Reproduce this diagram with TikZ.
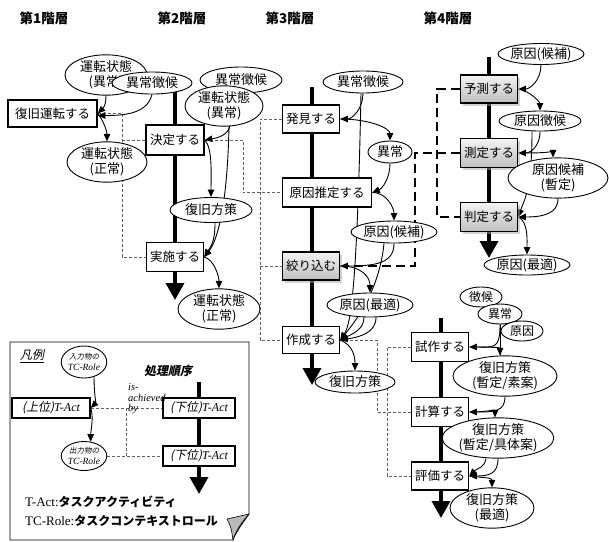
\documentclass[tikz,border=0pt]{standalone}
\usepackage{fontspec}
\setmainfont{Liberation Serif}
\newfontfamily\jp{Noto Sans CJK JP}
\newfontfamily\jpit[FakeSlant=0.2]{Noto Sans CJK JP}
\usetikzlibrary{shapes.geometric,arrows.meta,shadows,calc,backgrounds}
\tikzset{
  box/.style={draw, line width=1.6pt, fill=white, inner sep=0pt, minimum width=57pt, minimum height=29pt, font=\jp\fontsize{12.5}{14}\selectfont},
  gbox/.style={draw, line width=1.6pt, inner sep=0pt, minimum width=57pt, minimum height=29pt, top color=gray!10, bottom color=gray!50, drop shadow={shadow xshift=2.5pt, shadow yshift=-2.5pt, fill=gray!70}, font=\jp\fontsize{12.5}{14}\selectfont},
  ell/.style={draw, ellipse, fill=white, inner sep=0pt, line width=0.9pt, align=center, font=\jp\fontsize{13}{15}\selectfont},
  lbox/.style={draw, line width=1.6pt, fill=white, inner sep=0pt, minimum height=20pt, font=\fontsize{12}{14}\selectfont\itshape},
  lell/.style={draw, ellipse, fill=white, inner sep=0pt, line width=0.9pt, align=center, font=\fontsize{9.5}{10.5}\selectfont\itshape},
  flow/.style={line width=3.5pt, -{Triangle[width=18pt,length=17pt]}},
  arr/.style={line width=0.9pt, -{Triangle[width=6.5pt,length=7.5pt]}},
  dsh/.style={draw=gray!75!black, line width=0.9pt, dash pattern=on 3pt off 2pt},
  tdsh/.style={line width=2.3pt, dash pattern=on 9pt off 5pt},
  ttl/.style={font=\jp\bfseries\fontsize{13.5}{15}\selectfont},
}
\begin{document}
\begin{tikzpicture}[x=1pt,y=-1pt]
\useasboundingbox (0,0) rectangle (609,541);
% titles
\node[ttl] (t1) at (44,18) {第1階層};
\node[ttl] (t2) at (182,18) {第2階層};
\node[ttl] (t3) at (290,18) {第3階層};
\node[ttl] (t4) at (448,18) {第4階層};

% helper coordinates
\coordinate (k1) at (122,0);
\coordinate (k2) at (243,0);
\coordinate (k3) at (260,0);
\coordinate (k4) at (377,0);
\coordinate (k5) at (387,0);
\coordinate (k6) at (415,0);
\coordinate (k7) at (437,0);
\coordinate (k8) at (126,0);
\coordinate (m2s) at (175,92);  \coordinate (m2e) at (175,300);
\coordinate (m3s) at (312,87);  \coordinate (m3e) at (312,385);
\coordinate (m4s) at (489,57);  \coordinate (m4e) at (489,258);
\coordinate (m5s) at (441,318); \coordinate (m5e) at (441,518);
\coordinate (mls) at (199,382); \coordinate (mle) at (199,494);

% level 1
\node[box, minimum width=89pt, minimum height=27pt] (b1) at (52.5,113.5) {復旧運転する};
\node[ell, minimum width=82pt, minimum height=40pt] (e1a) at (106,75) {運転状態\\(異常)};
\node[ell, minimum width=80pt, minimum height=22pt] (e1b) at (152,83) {異常徴候};
\node[ell, minimum width=80pt, minimum height=38pt] (e1c) at (107,162) {運転状態\\(正常)};

% level 2
\node[box, minimum width=58pt, minimum height=30pt] (b2a) at (175,140) {決定する};
\node[box] (b2b) at (175,257) {実施する};
\node[ell, minimum width=82pt, minimum height=26pt] (e2a) at (241,80) {異常徴候};
\node[ell, minimum width=78pt, minimum height=36pt] (e2b) at (224,106) {運転状態\\(異常)};
\node[ell, minimum width=82pt, minimum height=25pt] (e2c) at (211,210) {復旧方策};
\node[ell, minimum width=82pt, minimum height=36pt] (e2d) at (219,309) {運転状態\\(正常)};

% level 3
\node[box, minimum height=28pt] (b3a) at (311,119) {発見する};
\node[box, minimum width=89pt] (b3b) at (327,192.5) {原因推定する};
\node[gbox, minimum height=28pt] (b3c) at (311,266) {絞り込む};
\node[box, minimum height=27pt] (b3d) at (311,340) {作成する};
\node[ell, minimum width=80pt, minimum height=22pt] (e3a) at (363,82) {異常徴候};
\node[ell, minimum width=44pt, minimum height=22pt] (e3b) at (390,152) {異常};
\node[ell, minimum width=82pt, minimum height=22pt] (e3c) at (394,232) {原因(候補)};
\node[ell, minimum width=74pt, minimum height=24pt] (e3d) at (370,305) {原因(最適)};
\node[ell, minimum width=80pt, minimum height=22pt] (e3e) at (355,382) {復旧方策};

% level 4
\node[gbox, minimum height=28pt] (b4a) at (489,89) {予測する};
\node[gbox] (b4b) at (489,153) {測定する};
\node[gbox] (b4c) at (489,217) {判定する};
\node[ell, minimum width=82pt, minimum height=21pt] (e4a) at (541,54) {原因(候補)};
\node[ell, minimum width=82pt, minimum height=20pt] (e4b) at (540,121) {原因徴候};
\node[ell, minimum width=100pt, minimum height=40pt] (e4c) at (558,178) {原因候補\\(暫定)};
\node[ell, minimum width=72pt, minimum height=20pt] (e4d) at (527,265) {原因(最適)};

% level 3b
\node[box] (b5a) at (440,347) {試作する};
\node[box] (b5b) at (440,412) {計算する};
\node[box, minimum height=28pt] (b5c) at (440,476) {評価する};
\node[ell, minimum width=42pt, minimum height=20pt, font=\jp\fontsize{12}{14}\selectfont] (e5a) at (481,297) {徴候};
\node[ell, minimum width=44pt, minimum height=20pt, font=\jp\fontsize{12}{14}\selectfont] (e5b) at (500,314) {異常};
\node[ell, minimum width=42pt, minimum height=20pt, font=\jp\fontsize{12}{14}\selectfont] (e5c) at (522,331) {原因};
\node[ell, minimum width=104pt, minimum height=33pt] (e6a) at (505,376) {復旧方策\\(暫定/素案)};
\node[ell, minimum width=110pt, minimum height=34pt] (e6b) at (498,438) {復旧方策\\(暫定/具体案)};
\node[ell, minimum width=84pt, minimum height=33pt] (e6c) at (492,508) {復旧方策\\(最適)};

% legend
\node[font=\jpit\fontsize{12}{14}\selectfont] (lg) at (32,356) {\underline{凡例}};
\node[lell, minimum width=37pt, minimum height=32pt] (le1) at (84,362) {{\jpit\fontsize{7.5}{9}\selectfont 入力物の}\\TC-Role};
\node[lell, minimum width=38pt, minimum height=29pt] (le2) at (84,456) {{\jpit\fontsize{7.5}{9}\selectfont 出力物の}\\TC-Role};
\node[font=\jpit\bfseries\fontsize{12}{14}\selectfont] (lo) at (168,371) {処理順序};
\node[lbox, minimum width=78pt] (lb1) at (51,408) {{\jpit(上位)}T-Act};
\node[lbox, minimum width=72pt] (lb2) at (199,408) {{\jpit(下位)}T-Act};
\node[lbox, minimum width=72pt] (lb3) at (199,456) {{\jpit(下位)}T-Act};
\node[anchor=west, align=left, inner sep=0pt, font=\fontsize{10.5}{10.5}\selectfont\itshape] (ia) at (128,399) {is-\\achieved-\\by};
\node[anchor=west, inner sep=0pt, font=\fontsize{13}{15}\selectfont] (n1) at (25,502) {T-Act:{\jp\bfseries\fontsize{12}{14}\selectfont タスクアクティビティ}};
\node[anchor=west, inner sep=0pt, font=\fontsize{13}{15}\selectfont] (n2) at (25,521) {TC-Role:{\jp\bfseries\fontsize{12}{14}\selectfont タスクコンテキストロール}};

\begin{scope}[on background layer]
% legend frame
\draw[line width=0.8pt, fill=white] (10,342) -- (249,342) -- (249,514) .. controls (242,524) and (236,532) .. (233,540) -- (10,540) -- cycle;
\draw[line width=0.6pt, fill=gray!55] (249,514) -- (227,519) .. controls (231,527) .. (233,540) .. controls (236,530) and (242,522) .. cycle;

% main flows
\draw[flow] (m2s) -- (m2e);
\draw[flow] (m3s) -- (m3e);
\draw[flow] (m4s) -- (m4e);
\draw[flow] (m5s) -- (m5e);
\draw[flow] (mls) -- (mle);

% dashed hierarchy links
\draw[dsh] (b1.east) -| (k1 |- b2b.west) -- (b2b.west);
\draw[dsh] (k1 |- b2a.west) -- (b2a.west);
\draw[dsh] (b2a.east) -| (k2 |- b3b.west) -- (b3b.west);
\draw[dsh] (b3a.west) -| (k3 |- b3d.west) -- (b3d.west);
\draw[dsh] (k3 |- b3c.west) -- (b3c.west);
\draw[dsh] (b3d.east) -| (k4 |- b5b.west) -- (b5b.west);
\draw[dsh] (b5a.west) -| (k5 |- b5c.west) -- (b5c.west);
\draw[tdsh] (b3c.east) -| (k6 |- b4b.west) -- (b4b.west);
\draw[tdsh] (b4a.west) -| (k7 |- b4c.west) -- (b4c.west);
\draw[dsh] (lb1.east) -- (lb2.west);
\draw[dsh] (k8 |- lb1.east) -- (k8 |- lb3.west);
\draw[dsh] (le2.east) -- (lb3.west);

% level 1 arrows
\draw[arr] (e1a.south) .. controls +(0,10) and +(5,-5) .. (b1.east);
\draw[arr] (e1b.south) .. controls +(-5,20) and +(25,0) .. ($(b1.east)+(0,2)$);
\draw[arr] (b1.east) .. controls +(6,8) and +(0,-10) .. (e1c.north);

% level 2 arrows
\draw[arr] ($(e2b.south)+(6,-1)$) .. controls +(-2,10) and +(12,-2) .. (b2a.east);
\draw[arr] (b2a.east) .. controls +(8,8) and +(0,-20) .. (e2c.north);
\draw[arr] ($(e2b.south)+(5,-1)$) .. controls +(-2,100) and +(8,-10) .. (b2b.east);
\draw[arr] ($(e2c.south)+(4,0)$) .. controls +(0,20) and +(6,-10) .. (b2b.east);
\draw[arr] (b2b.east) .. controls +(10,3) and +(0,-12) .. (e2d.north);

% level 3 arrows
\draw[arr] (e3a.south) .. controls +(0,15) and +(12,0) .. (b3a.east);
\draw[arr] (b3a.east) .. controls +(30,0) and +(0,-12) .. (e3b.north);
\draw[arr] (e3b.south) .. controls +(0,15) and +(10,-4) .. (b3b.east);
\draw[arr] (b3b.east) .. controls +(15,0) and +(0,-12) .. (e3c.north);
\draw[arr] (e3c.south) .. controls +(0,20) and +(35,0) .. (b3c.east);
\draw[arr] (b3c.east) .. controls +(22,0) and +(0,-15) .. (e3d.north);
\draw[arr] ($(e3a.south)+(-2,0)$) .. controls +(-4,200) and +(10,-15) .. (b3d.east);
\draw[arr] ($(e3c.south)+(-10,0)$) .. controls +(-5,50) and +(12,-15) .. (b3d.east);
\draw[arr] ($(e3d.south)+(-6,0)$) .. controls +(0,12) and +(12,-6) .. (b3d.east);
\draw[arr] ($(e3d.south)+(6,0)$) .. controls +(0,15) and +(20,-3) .. (b3d.east);
\draw[arr] (b3d.east) .. controls +(12,5) and +(0,-15) .. (e3e.north);

% level 4 arrows
\draw[arr] (e4a.south) .. controls +(0,15) and +(12,0) .. (b4a.east);
\draw[arr] (b4a.east) .. controls +(12,2) and +(0,-8) .. (e4b.north);
\draw[arr] (e4b.south) .. controls +(0,15) and +(12,0) .. (b4b.east);
\draw[arr] (b4b.east) .. controls +(25,0) and +(0,-5) .. ($(e4c.north)+(-5,0)$);
\draw[arr] (e4c.south) .. controls +(0,15) and +(25,0) .. (b4c.east);
\draw[arr] ($(e4b.south)+(-8,0)$) .. controls +(0,60) and +(5,-15) .. (b4c.east);
\draw[arr] (b4c.east) .. controls +(10,5) and +(0,-15) .. (e4d.north);

% level 3b arrows
\draw[arr] (e5b.south) .. controls +(0,25) and +(25,0) .. (b5a.east);
\draw[line width=0.9pt] (e5b.south) -- (e5b.south |- e6a.north);
\draw[arr] (b5a.east) .. controls +(20,0) and +(0,-8) .. ($(e6a.north)+(-5,0)$);
\draw[arr] (e6a.south) .. controls +(0,15) and +(25,0) .. (b5b.east);
\draw[arr] (b5b.east) .. controls +(18,0) and +(0,-8) .. ($(e6b.north)+(-3,0)$);
\draw[arr] (e6b.south) .. controls +(0,15) and +(20,0) .. (b5c.east);
\draw[arr] ($(e6b.south)+(-12,0)$) .. controls +(-2,10) and +(8,-8) .. (b5c.east);
\draw[arr] (b5c.east) .. controls +(15,2) and +(0,-10) .. (e6c.north);

% legend arrows
\draw[arr] ($(le1.south)+(10,-2)$) .. controls +(0,15) and +(5,-5) .. (lb1.east);
\draw[arr] (lb1.east) .. controls +(3,10) and +(0,-10) .. (le2.65);
\end{scope}
\end{tikzpicture}
\end{document}
